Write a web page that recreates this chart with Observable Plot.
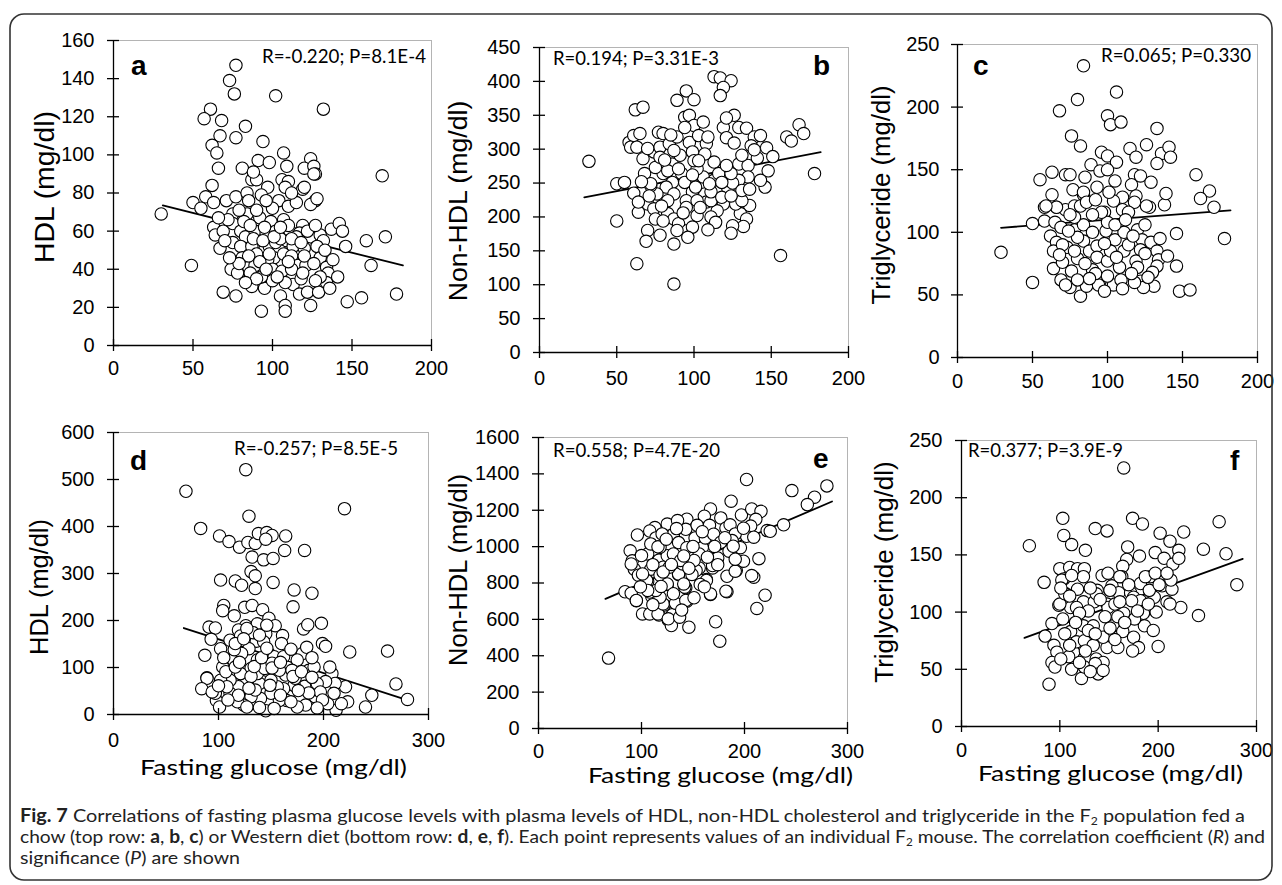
<!DOCTYPE html>
<html><head><meta charset="utf-8">
<script src="https://cdn.jsdelivr.net/npm/d3@7"></script>
<script src="https://cdn.jsdelivr.net/npm/@observablehq/plot@0.6"></script>
<style>
html,body{margin:0;padding:0;background:#fff;}
#wrap{position:relative;width:1282px;height:885px;overflow:hidden;background:#fff;}
#wrap svg{position:absolute;}
</style></head><body><div id="wrap"></div>
<script>
// ---- data: [fasting glucose, lipid] pairs ----
const panelA = [[77,147],[73,139],[76,132],[102,131],[132,124],[61,124],[57,119],[68,118],[83,115],[67,110],[77,109],[94,107],[62,105],[65,101],[107,101],[124,98],
[91,97],[98,96],[120,93],[126,94],[127,90],[66,93],[81,93],[109,94],[169,89],[87,87],[90,87],[97,83],[106,87],[110,86],[108,83],[119,82],[120,83],[62,84],[58,78],[50,75],[55,72],[63,75],[71,76],[77,78],[84,80],[85,76],[93,79],[104,76],[110,73],[115,75],[127,76],[124,74],[30,69],[75,69],[84,69],[92,67],[99,65],[107,66],[119,63],[63,62],[64,58],[69,60],[75,64],[80,60],[83,57],[89,60],[96,59],[102,60],[111,60],[117,59],[124,57],[130,58],[137,61],[142,64],[144,60],[132,55],[146,52],[159,55],[171,57],[67,51],[75,54],[80,52],[87,52],[95,50],[98,52],[104,51],[109,55],[113,52],[120,51],[128,52],[81,46],[90,48],[101,46],[107,48],[112,47],[130,46],[74,40],[78,38],[85,41],[89,42],[97,45],[100,40],[106,39],[116,42],[121,42],[134,41],[135,38],[49,42],[162,42],[69,28],[77,26],[87,31],[95,30],[100,34],[105,26],[113,32],[117,27],[122,28],[129,28],[134,33],[124,21],[108,21],[108,18],[93,18],[147,23],[156,25],[178,27],
[88,56],[95,62],[102,54],[110,63],[115,57],[85,47],[92,44],[105,56],[98,48],[120,47],[112,40],[82,65],[90,71],[100,72],[126,43],[130,36],[118,35],[108,33],[93,36],[86,38],
[72,66],[79,71],[86,63],[94,55],[101,57],[105,62],[112,56],[118,54],[122,60],[127,63],[133,50],[138,45],[141,36],[136,30],[127,34],[119,38],[110,44],[103,36],[96,40],[90,35],[83,33],[79,43],[73,46],[70,55],[66,67],[88,91],[96,76],[112,80],[126,90],[128,77]];

const panelB = [[32,282],[50,194],[50,249],[55,251],[61,235],[62,358],[67,362],[63,131],[87,101],[156,143],[178,264],[58,310],[61,320],[65,323],[59,303],[63,303],[67,286],[68,264],[74,296],[77,325],[80,323],[78,303],[84,308],[89,318],[97,310],[99,296],[95,386],[89,372],[100,373],[94,347],[97,350],[100,335],[103,320],[108,308],[109,318],[113,407],[117,405],[124,401],[119,391],[117,379],[126,350],[119,332],[129,332],[134,331],[121,317],[126,309],[139,318],[143,320],[137,305],[147,302],[160,318],[163,312],[168,336],[171,323],[113,281],[129,278],[135,276],[148,268],[146,244],[143,254],[135,259],[129,254],[122,241],[125,250],[136,217],[130,205],[134,197],[132,186],[125,187],[124,176],[119,219],[115,209],[111,200],[102,202],[107,234],[108,222],[106,259],[102,271],[98,254],[99,237],[95,224],[92,264],[86,278],[86,251],[82,244],[80,264],[76,234],[75,273],[72,246],[70,219],[74,212],[64,207],[64,222],[75,197],[70,180],[69,164],[78,173],[83,205],[87,197],[90,190],[87,160],[96,180],[89,180],[99,185],[95,214],[102,224],[111,224],[91,291],[100,283],[87,234],[83,224],[113,254],[116,264],[111,237],[118,229],[127,219],[131,224],[131,239],[83,268],[87,298],[107,293],[103,283],[78,288],[72,249],[94,251],[101,244],[118,251],[124,264],
[70,301],[81,284],[90,271],[99,262],[110,249],[121,276],[131,291],[141,287],[104,214],[114,192],[93,206],[79,216],[71,231],[66,252],[85,321],[94,332],[106,340],[121,346],[139,299],[151,289],[124,231],[136,241],[109,181],[96,170],[80,194]];

const panelC = [[84,233],[106,212],[80,206],[68,197],[100,193],[102,186],[109,188],[133,183],[76,177],[82,169],[126,170],[115,167],[96,164],[100,161],[119,160],[136,163],[141,168],[142,160],[133,155],[89,154],[95,149],[106,156],[100,150],[55,142],[63,148],[72,146],[75,146],[85,144],[118,146],[122,145],[129,140],[116,138],[159,146],[168,133],[162,127],[171,120],[63,130],[58,120],[66,120],[77,134],[84,130],[93,136],[110,128],[119,129],[128,120],[138,122],[50,107],[58,109],[65,108],[72,118],[78,121],[86,125],[98,116],[104,125],[29,84],[50,60],[178,95],[146,99],
[146,73],[148,53],[155,54],[62,97],[66,92],[64,85],[64,71],[69,62],[70,76],[73,88],[76,69],[75,56],[82,49],[86,57],[80,79],[84,93],[88,85],[93,89],[93,80],[90,70],[95,61],[100,77],[99,101],[105,94],[102,85],[108,72],[104,58],[109,62],[111,100],[111,85],[120,102],[123,94],[129,92],[122,86],[119,77],[120,72],[133,85],[134,78],[133,73],[130,68],[131,57],[122,61],[124,56],[118,60],[100,65],[94,58],[69,104],[78,102],[84,106],[100,108],[90,100],[82,121],[96,116],[110,118],[118,124],[126,121],[78,112],[66,120],[59,121],[101,132],[114,116],[84,132],[80,96],[74,101],[105,106],[90,114],[86,124],
[70,90],[78,85],[85,75],[92,67],[98,91],[106,80],[114,90],[117,97],[125,83],[127,64],[116,67],[110,55],[98,53],[88,63],[80,62],[72,58],[68,82],[75,114],[92,126],[105,141],[112,110],[125,106],[135,95],[140,81],[139,131]];

const panelD = [[126,521],[69,475],[220,438],[129,422],[83,396],[101,380],[110,368],[120,356],[128,366],[135,364],[138,385],[146,387],[151,381],[145,373],[164,380],[163,349],[182,349],[132,335],[143,329],[152,332],[131,304],[135,295],[102,286],[116,284],[122,275],[135,268],[152,281],[172,265],[189,258],[171,229],[105,232],[115,210],[125,228],[132,232],[142,223],[148,205],[154,189],[161,168],[126,189],[137,193],[145,172],[136,156],[181,182],[185,191],[198,194],[91,186],[97,184],[93,160],[104,221],[119,180],[133,174],
[87,126],[89,78],[102,140],[111,158],[114,117],[129,140],[122,130],[137,116],[148,130],[153,123],[162,123],[143,155],[180,130],[184,143],[199,151],[202,145],[225,133],[261,135],[269,65],[280,32],[246,41],[240,16],[208,87],[221,59],[223,27],[211,66],[212,9],[202,70],[192,38],[186,94],[182,60],[178,39],[183,20],[175,16],[172,62],[166,100],[164,84],[162,55],[165,30],[158,30],[156,59],[146,94],[150,73],[150,45],[145,8],[140,34],[139,66],[137,87],[127,73],[131,98],[131,38],[124,20],[118,27],[119,59],[121,87],[111,73],[111,45],[104,101],[102,73],[98,30],[97,45],[89,77],[84,55],[94,48],[115,138],[121,167],[127,183],[139,169],[146,190],[144,98],[151,109],[158,94],[175,116],[191,101],[194,66],[197,48],[210,45],[217,23],[204,23],[169,27],[135,52],[108,59],[101,16],[127,16],[170,94],[173,77],[153,13],
[100,61],[107,91],[116,101],[120,111],[131,81],[134,102],[141,121],[151,99],[159,111],[171,81],[179,91],[189,79],[199,31],[194,14],[186,46],[176,51],[159,41],[149,62],[139,15],[129,56],[119,41],[109,31],[105,121],[116,151],[124,161],[146,141],[160,151],[169,139],[189,121],[206,101]];

const panelE = [[202,1369],[187,1250],[246,1308],[280,1334],[268,1272],[261,1231],[167,1207],[161,1167],[144,1151],[125,1124],[113,1105],[108,1086],[96,1064],[89,977],[91,922],[93,876],[84,752],[90,744],[95,703],[101,630],[114,1048],[114,965],[109,876],[117,926],[125,950],[131,1068],[136,1022],[143,1095],[144,994],[152,1048],[159,994],[162,1048],[166,1117],[177,1158],[182,1102],[186,1120],[197,1174],[207,1207],[216,1194],[211,1150],[206,1113],[202,1057],[222,1088],[225,1084],[238,1120],[214,934],[209,832],[220,733],[212,660],[183,752],[172,587],[176,480],[183,837],[192,869],[199,920],[196,994],[185,975],[174,938],[169,883],[163,819],[167,737],[156,883],[148,902],[136,847],[125,792],[143,774],[134,682],[144,700],[130,626],[126,597],[146,557],[129,566],[117,624],[122,679],[110,726],[106,808],[118,843],[131,960],[156,960],[97,843],[170,1068],
[68,387],[90,905],[95,704],[105,814],[108,630],[116,630],[126,603],[137,612],[121,685],[133,689],[143,704],[125,795],[136,850],[142,777],[158,814],[163,814],[167,740],[169,896],[182,755],[191,865],[207,841],[108,750],[118,722],[101,850],[121,887],[140,905],[153,869],
[106,960],[118,997],[127,887],[138,924],[151,924],[164,942],[149,847],[157,792],[141,795],[114,759],[106,759],[177,1024],[191,1070],[188,1033],[154,1117],[135,1143],[120,1070],[109,1015],
[100,951],[111,901],[121,861],[129,902],[141,949],[150,1001],[159,1082],[171,1001],[181,1049],[189,1002],[199,1101],[209,1052],[119,781],[131,741],[139,651],[151,719],[161,779],[111,681],[99,779],[116,999],[124,1041],[134,1099],[146,881],[174,901],[191,931]];

const panelF = [[165,226],[69,158],[103,182],[104,167],[112,159],[126,154],[136,173],[148,171],[174,182],[184,177],[202,169],[226,170],[212,162],[221,154],[246,155],[262,179],[269,151],[280,124],[169,157],[181,149],[168,146],[197,152],[206,147],[215,142],[221,147],[192,131],[204,123],[214,120],[241,97],[164,140],[163,131],[182,125],[187,131],[196,113],[209,109],[223,104],[213,128],[84,126],[100,138],[110,139],[118,138],[125,138],[124,131],[143,132],[153,123],[104,129],[106,116],[118,120],[138,119],[148,107],[160,117],[172,117],[175,113],[182,110],[186,101],[99,106],[111,104],[124,109],[135,109],
[92,90],[85,79],[94,71],[97,65],[92,56],[95,52],[89,37],[100,107],[103,94],[111,83],[114,65],[112,50],[122,42],[125,52],[117,74],[125,75],[124,88],[117,104],[129,101],[134,88],[134,71],[137,59],[144,56],[136,55],[139,46],[144,49],[148,69],[144,78],[154,88],[149,104],[159,69],[164,83],[175,78],[180,69],[186,88],[185,99],[176,94],[165,99],[195,84],[200,70],[198,100],[159,96],[105,116],[137,116],[102,128],[112,132],[149,134],[161,131],[197,134],[173,110],[212,107],[190,107],[156,107],[129,84],[109,61],
[101,121],[110,114],[120,99],[131,121],[141,111],[151,119],[161,109],[170,124],[179,101],[191,119],[201,124],[209,134],[105,81],[116,91],[126,66],[136,81],[146,96],[156,76],[166,91],[174,66],[110,71],[120,56],[131,48],[101,59],[151,86]];

// regression lines (end points)
const trendA = [[31,73.5],[182,42]];
const trendB = [[29,229],[182,295.5]];
const trendC = [[29,103.6],[182,117.5]];
const trendD = [[67,184],[274,35]];
const trendE = [[65,713],[285,1248]];
const trendF = [[64,77.5],[286,146.5]];

// tick labels
const xTicksTop = [0,50,100,150,200];
const xTicksBottom = [0,100,200,300];
const yTicksA = [0,20,40,60,80,100,120,140,160];
const yTicksB = [0,50,100,150,200,250,300,350,400,450];
const yTicksC = [0,50,100,150,200,250];
const yTicksD = [0,100,200,300,400,500,600];
const yTicksE = [0,200,400,600,800,1000,1200,1400,1600];
const yTicksF = [0,50,100,150,200,250];

// texts
const yTitles = ["HDL (mg/dl)","Non-HDL (mg/dl)","Triglyceride (mg/dl)","HDL (mg/dl)","Non-HDL (mg/dl)","Triglyceride (mg/dl)"];
const stats = ["R=-0.220; P=8.1E-4","R=0.194; P=3.31E-3","R=0.065; P=0.330","R=-0.257; P=8.5E-5","R=0.558; P=4.7E-20","R=0.377; P=3.9E-9"];
const letters = ["a","b","c","d","e","f"];
const xTitle = "Fasting glucose (mg/dl)";

const wrap = document.getElementById("wrap");

const panels = [
 {data:panelA, trend:trendA, L:113,R:431,T:40,B:345, xd:[0,200], xt:xTicksTop, yd:[0,160], yt:yTicksA, xpad:9, ypad:13},
 {data:panelB, trend:trendB, L:539,R:848,T:47,B:352, xd:[0,200], xt:xTicksTop, yd:[0,450], yt:yTicksB, xpad:12, ypad:13},
 {data:panelC, trend:trendC, L:957,R:1257,T:44,B:357, xd:[0,200], xt:xTicksTop, yd:[0,250], yt:yTicksC, xpad:10, ypad:12},
 {data:panelD, trend:trendD, L:113,R:428,T:432,B:714, xd:[0,300], xt:xTicksBottom, yd:[0,600], yt:yTicksD, xpad:12, ypad:13},
 {data:panelE, trend:trendE, L:538,R:847,T:437,B:728, xd:[0,300], xt:xTicksBottom, yd:[0,1600], yt:yTicksE, xpad:9, ypad:13},
 {data:panelF, trend:trendF, L:961,R:1256,T:440,B:726, xd:[0,300], xt:xTicksBottom, yd:[0,250], yt:yTicksF, xpad:10, ypad:13}
];

const ML=100, MR=10, MT=10, MB=40;
const plain = d => String(d);
for (const p of panels) {
  const w = p.R - p.L, h = p.B - p.T;
  const svg = Plot.plot({
    width: ML + w + MR, height: MT + h + MB,
    marginLeft: ML, marginRight: MR, marginTop: MT, marginBottom: MB,
    style: {fontFamily: "'Liberation Sans', Arial, sans-serif", fontSize: "20px", background: "transparent", color: "#000", overflow: "visible"},
    x: {domain: p.xd},
    y: {domain: p.yd},
    marks: [
      Plot.frame({stroke: "#b4b4b4", strokeWidth: 1}),
      Plot.line(p.trend, {x: d => d[0], y: d => d[1], stroke: "#000", strokeWidth: 1.8}),
      Plot.dot(p.data, {x: d => d[0], y: d => d[1], r: 6.2, fill: "#fff", stroke: "#000", strokeWidth: 1.1}),
      Plot.ruleX([p.xd[0]], {stroke: "#000", strokeWidth: 1.3}),
      Plot.ruleY([p.yd[0]], {stroke: "#000", strokeWidth: 1.3}),
      Plot.axisY(p.yt, {tickSize: 12, dx: 6, tickPadding: p.ypad, fontSize: 20, strokeWidth: 1.3, tickFormat: plain, label: null}),
      Plot.axisX(p.xt, {tickSize: 12, dy: -6, tickPadding: p.xpad, fontSize: 20, strokeWidth: 1.3, tickFormat: plain, label: null})
    ]
  });
  svg.style.left = (p.L - ML) + "px";
  svg.style.top = (p.T - MT) + "px";
  wrap.appendChild(svg);
}

// overlay: frame box, titles, annotations, caption
const ov = d3.select(wrap).append("svg")
  .attr("width", 1282).attr("height", 885)
  .style("left", "0px").style("top", "0px").style("pointer-events", "none");

ov.append("rect").attr("x", 10).attr("y", 14).attr("width", 1262).attr("height", 866)
  .attr("rx", 14).attr("fill", "none").attr("stroke", "#333").attr("stroke-width", 1.6);

const arial = "'Liberation Sans', Arial, sans-serif";
const calib = "Lato, 'Noto Sans', sans-serif";

// y titles: [baseline x, center y, font size]
const yTitlePos = [[54,187,28.4],[467,201,26.7],[890,195,25.7],[48,587,25.4],[467,570,25.5],[893,572,26]];
yTitlePos.forEach(([bx, cy, fs], i) => {
  ov.append("text").attr("transform", `translate(${bx},${cy}) rotate(-90)`)
    .attr("text-anchor", "middle").attr("font-family", arial).attr("font-size", fs)
    .attr("fill", "#000").text(yTitles[i]);
});

// x titles for bottom row: [x start, baseline, length]
const xTitlePos = [[140,775,267],[588,783,265],[978,781,265]];
xTitlePos.forEach(([x, y, len]) => {
  ov.append("text").attr("x", x).attr("y", y).attr("font-family", calib).attr("font-size", 22)
    .attr("textLength", len).attr("lengthAdjust", "spacingAndGlyphs").attr("fill", "#000").text(xTitle);
});

// statistics: [x start, baseline, length]
const statPos = [[262,63,164],[553,65,166],[1101,62,150],[234,455,164],[553,457,167],[968,457,155]];
statPos.forEach(([x, y, len], i) => {
  ov.append("text").attr("x", x).attr("y", y).attr("font-family", calib).attr("font-size", 19)
    .attr("textLength", len).attr("lengthAdjust", "spacingAndGlyphs").attr("fill", "#000").text(stats[i]);
});

// panel letters
const letterPos = [[131,75],[813,75],[973,75],[130,470],[813,468],[1230,470]];
letterPos.forEach(([x, y], i) => {
  ov.append("text").attr("x", x).attr("y", y).attr("font-family", arial).attr("font-size", 28)
    .attr("font-weight", "bold").attr("fill", "#000").text(letters[i]);
});

// caption
const capLines = [
  [["Fig. 7","b"],[" Correlations of fasting plasma glucose levels with plasma levels of HDL, non-HDL cholesterol and triglyceride in the F",""],["2","sub"],[" population fed a","up"]],
  [["chow (top row: ",""],["a","b"],[", ",""],["b","b"],[", ",""],["c","b"],[") or Western diet (bottom row: ",""],["d","b"],[", ",""],["e","b"],[", ",""],["f","b"],["). Each point represents values of an individual F",""],["2","sub"],[" mouse. The correlation coefficient (","up"],["R","i"],[") and",""]],
  [["significance (",""],["P","i"],[") are shown",""]]
];
const capPos = [[20,822,1225],[20,843,1245],[20,864,220]];
capLines.forEach((parts, i) => {
  const [x, y, len] = capPos[i];
  const t = ov.append("text").attr("x", x).attr("y", y).attr("font-family", calib).attr("font-size", 18)
    .attr("fill", "#222").attr("textLength", len).attr("lengthAdjust", "spacingAndGlyphs");
  parts.forEach(([s, st]) => {
    const sp = t.append("tspan").text(s);
    if (st === "b") sp.attr("font-weight", "bold");
    if (st === "i") sp.attr("font-style", "italic");
    if (st === "sub") sp.attr("font-size", 11).attr("dy", 3);
    if (st === "up") sp.attr("dy", -3);
  });
});
</script>
</body></html>
